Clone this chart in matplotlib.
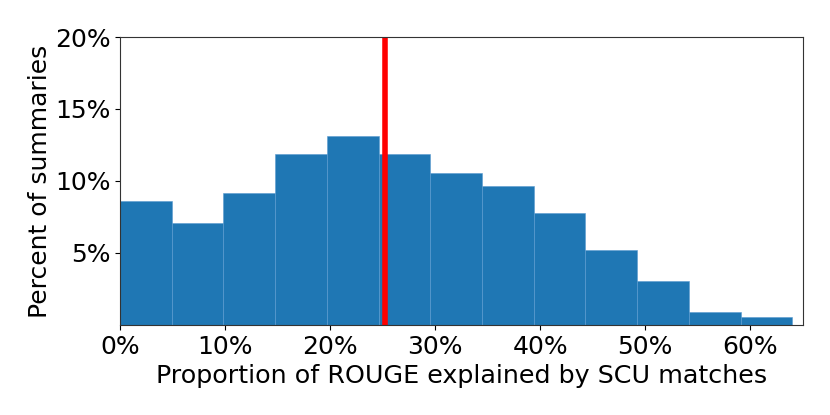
import numpy as np
import matplotlib
matplotlib.use('Agg')
import matplotlib.pyplot as plt
from matplotlib.ticker import PercentFormatter

# share of summaries in each bin (percent), bins span 0 .. 64%
percents = [8.62, 7.08, 9.19, 11.84, 13.15, 11.88, 10.55,
            9.63, 7.79, 5.22, 3.06, 0.90, 0.57]
bin_max = 0.64
mean_line = 0.252  # red marker line

y_ticks = [5, 10, 15, 20]
x_ticks = [0, 0.1, 0.2, 0.3, 0.4, 0.5, 0.6]

edges = np.linspace(0, bin_max, len(percents) + 1)
width = edges[1] - edges[0]

plt.rcParams['font.size'] = 18

fig = plt.figure(figsize=(8.3, 4.15), dpi=100)
ax = fig.add_axes([0.1446, 0.217, 0.8226, 0.6938])

ax.bar(edges[:-1], percents, width, align='edge', color='#1f77b4',
       edgecolor='#5b9bd0', linewidth=0.4)
ax.axvline(mean_line, color='red', linewidth=4)

ax.set_xlim(0, 0.65)
ax.set_ylim(0, 20)
ax.set_xticks(x_ticks)
ax.xaxis.set_major_formatter(PercentFormatter(1.0, decimals=0))
ax.set_yticks(y_ticks)
ax.yaxis.set_major_formatter(PercentFormatter(100, decimals=0))

ax.set_xlabel('Proportion of ROUGE explained by SCU matches', labelpad=4,
              fontsize=18.3)
ax.set_ylabel('Percent of summaries', labelpad=2)

for s in ax.spines.values():
    s.set_color('#333333')

fig.savefig('out.png', dpi=100)
